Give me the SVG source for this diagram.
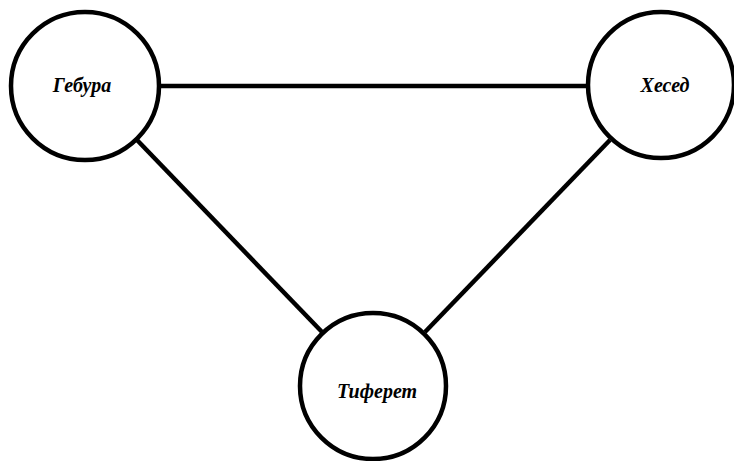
<svg xmlns="http://www.w3.org/2000/svg" width="734" height="461" viewBox="0 0 734 461">
<style>
.node{fill:#fff;stroke:#000;stroke-width:4.5}
.lbl{font-family:"Liberation Serif","DejaVu Serif",serif;font-style:italic;font-weight:bold;font-size:20px;fill:#000;text-anchor:middle}
.edge{stroke:#000;stroke-width:4.5;fill:none}
</style>
<rect width="734" height="461" fill="#fff"/>
<g id="edges">
<line class="edge" x1="160" y1="86" x2="588" y2="86"/>
<line class="edge" x1="137" y1="140" x2="323" y2="333"/>
<line class="edge" x1="610" y1="140" x2="425" y2="332"/>
</g>
<g id="gebura">
<circle class="node" cx="85" cy="86" r="74"/>
<text class="lbl" x="82" y="92">Гебура</text>
</g>
<g id="hesed">
<circle class="node" cx="661" cy="85" r="73"/>
<text class="lbl" x="665" y="92">Хесед</text>
</g>
<g id="tiferet">
<circle class="node" cx="373" cy="386" r="73"/>
<text class="lbl" x="377" y="398">Тиферет</text>
</g>
</svg>
